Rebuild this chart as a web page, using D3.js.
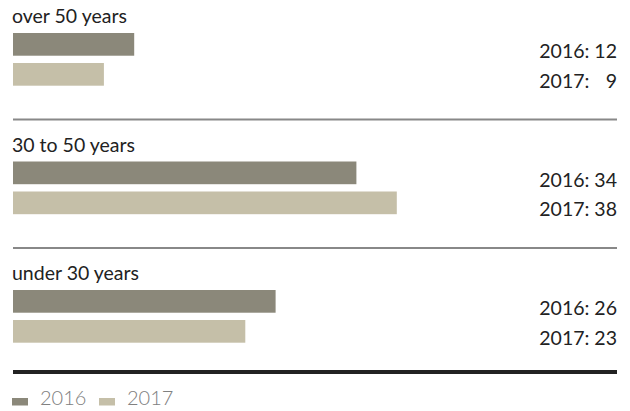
<!DOCTYPE html>
<html><head><meta charset="utf-8">
<script src="https://cdn.jsdelivr.net/npm/d3@7"></script>
<style>body{margin:0;background:#fff}svg{display:block}</style>
</head><body>
<svg id="c" width="630" height="411"></svg>
<script>
const categories = ["over 50 years", "30 to 50 years", "under 30 years"];
const years = ["2016", "2017"];
const values2016 = [12, 34, 26];
const values2017 = [9, 38, 23];
const colors = {"2016": "#8b887a", "2017": "#c5bfa8"};

const svg = d3.select("#c");
const font = "Lato, 'Open Sans', sans-serif";
const x = d3.scaleLinear().domain([0, 60]).range([13, 619]);
const yGroup = d3.scalePoint().domain(categories).range([33, 290]);
const yBar = d3.scaleBand().domain(years).range([0, 52.7]).paddingInner(0.243);

const data = categories.map((c, i) => ({cat: c, vals: [
  {year: "2016", v: values2016[i]}, {year: "2017", v: values2017[i]}]}));

const g = svg.selectAll("g.grp").data(data).enter().append("g")
  .attr("class", "grp")
  .attr("transform", d => `translate(0,${yGroup(d.cat)})`);

g.append("text").attr("x", 12).attr("y", -10)
  .attr("font-family", font).attr("font-size", 19.5).attr("fill", "#222")
  .text(d => d.cat);

g.selectAll("rect").data(d => d.vals).enter().append("rect")
  .attr("x", x(0)).attr("y", d => yBar(d.year))
  .attr("width", d => x(d.v) - x(0)).attr("height", yBar.bandwidth())
  .attr("fill", d => colors[d.year]);

g.selectAll("text.lab").data(d => d.vals).enter().append("text")
  .attr("class", "lab").attr("x", 617).attr("y", d => yBar(d.year) + 25)
  .attr("text-anchor", "end")
  .attr("font-family", font).attr("font-size", 19.5).attr("fill", "#222")
  .text(d => d.year + ": " + (d.v < 10 ? "\u2007" : "") + d.v);

// separators between groups
g.filter((d, i) => i < categories.length - 1).append("line")
  .attr("x1", 13).attr("x2", 617).attr("y1", 86.5).attr("y2", 86.5)
  .attr("stroke", "#888").attr("stroke-width", 2);

// thick bottom rule
svg.append("line").attr("x1", 13).attr("x2", 617).attr("y1", 372).attr("y2", 372)
  .attr("stroke", "#222").attr("stroke-width", 4);

// legend
const leg = svg.append("g");
const legX = [12, 99];
years.forEach((yr, i) => {
  leg.append("rect").attr("x", legX[i]).attr("y", 398).attr("width", 16).attr("height", 7.5)
    .attr("fill", colors[yr]);
  leg.append("text").attr("x", legX[i] + 28).attr("y", 405)
    .attr("font-family", font).attr("font-weight", 300).attr("font-size", 20).attr("fill", "#808080")
    .text(yr);
});
</script>
</body></html>
